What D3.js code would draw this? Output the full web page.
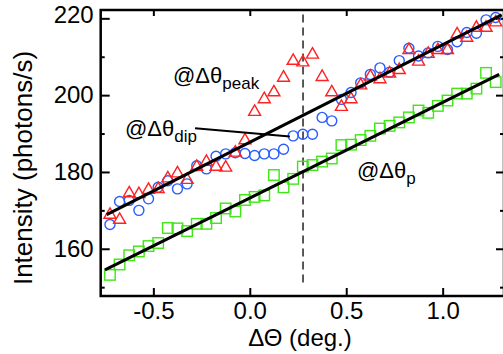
<!DOCTYPE html>
<html>
<head>
<meta charset="utf-8">
<script src="https://cdn.jsdelivr.net/npm/d3@7"></script>
<style>
  body { margin: 0; background: #fff; }
  svg { display: block; font-family: "Liberation Sans", Arial, sans-serif; }
</style>
</head>
<body>
<svg id="chart" width="503" height="354"></svg>
<script>
// detuning angles (deg.) shared by the three scans
const angles = [
  -0.725, -0.675, -0.625, -0.575, -0.525, -0.475, -0.425, -0.375, -0.325, -0.275,
  -0.225, -0.175, -0.125, -0.075, -0.025, 0.025, 0.075, 0.125, 0.175, 0.225,
  0.275, 0.325, 0.375, 0.425, 0.475, 0.525, 0.575, 0.625, 0.675, 0.725,
  0.775, 0.825, 0.875, 0.925, 0.975, 1.025, 1.075, 1.125, 1.175, 1.225, 1.275
];

// @Δθ_peak (red triangles)
const peakCounts = [
  169.1, 167.8, 174.7, 174.5, 175.6, 175.8, 178.6, 179.9, 178.2, 181.6,
  182.9, 181.6, 181.4, 185.3, 188.5, 195.9, 199.2, 201.0, 204.8, 209.2,
  208.8, 210.8, 205.0, 201.0, 197.2, 199.2, 202.8, 205.1, 204.4, 205.9,
  206.8, 212.0, 209.0, 211.0, 212.0, 212.0, 216.1, 215.2, 217.8, 217.8, 219.2
];

// @Δθ_dip (blue circles)
const dipCounts = [
  166.3, 172.3, 172.6, 170.0, 173.0, 176.0, 177.7, 175.6, 176.9, 181.6,
  180.8, 184.1, 184.7, 185.0, 184.8, 184.3, 184.7, 184.7, 185.9, 189.4,
  189.8, 189.8, 194.2, 193.3, 198.9, 200.7, 203.2, 205.4, 207.1, 206.0,
  209.0, 212.2, 210.2, 211.0, 212.7, 211.9, 213.9, 216.3, 216.1, 219.6, 220.2
];

// @Δθ_p (green squares)
const pCounts = [
  153.2, 155.9, 158.3, 159.3, 160.7, 161.5, 165.4, 165.3, 164.6, 166.5,
  166.5, 168.0, 170.5, 169.7, 172.7, 173.5, 173.9, 179.2, 176.0, 178.2,
  181.4, 181.8, 182.7, 183.5, 187.0, 187.1, 188.3, 189.4, 191.3, 192.0,
  192.9, 194.2, 196.0, 195.4, 197.2, 198.6, 200.4, 200.4, 201.7, 205.8, 203.4
];

// straight-line fits, [angle, intensity] end points
const fitUpper = [[-0.742, 168.9], [1.306, 220.9]];
const fitLower = [[-0.751, 154.5], [1.293, 205.4]];

const dipPointer = [[-0.284, 191.4], [0.208, 189.2]]; // leader line from the dip label
const markerAngle = 0.276; // dashed vertical line

const xTicks = [-0.5, 0.0, 0.5, 1.0];
const yTicks = [160, 180, 200, 220];
const yMinorTicks = [150, 170, 190, 210];

const svg = d3.select("#chart");

// plot frame in pixels
const box = { left: 100.7, right: 504, top: 10, bottom: 296 };

const x = d3.scaleLinear().domain([-0.773, 1.318]).range([box.left, box.right]);
const y = d3.scaleLinear().domain([147.7, 222.17]).range([box.bottom, box.top]);

const red = "#ff2222", blue = "#2a5cff", green = "#3ee614";

// axes, ticks pointing inward
const gx = svg.append("g")
  .attr("transform", `translate(0,${box.bottom})`)
  .call(d3.axisBottom(x).tickValues(xTicks).tickSize(-8).tickPadding(6).tickFormat(d => d.toFixed(1)));

const gxTop = svg.append("g")
  .attr("transform", `translate(0,${box.top})`)
  .call(d3.axisTop(x).tickValues(xTicks).tickSize(-6).tickFormat(""));

const gy = svg.append("g")
  .attr("transform", `translate(${box.left},0)`)
  .call(d3.axisLeft(y).tickValues(yTicks).tickSize(-9).tickPadding(7));

const gyMinor = svg.append("g")
  .attr("transform", `translate(${box.left},0)`)
  .call(d3.axisLeft(y).tickValues(yMinorTicks).tickSize(-4).tickFormat(""));

const gyRight = svg.append("g")
  .attr("transform", `translate(${box.right},0)`)
  .call(d3.axisRight(y).tickValues(yTicks).tickSize(-8).tickFormat(""));

const gyRightMinor = svg.append("g")
  .attr("transform", `translate(${box.right},0)`)
  .call(d3.axisRight(y).tickValues(yMinorTicks).tickSize(-4).tickFormat(""));

[gx, gxTop, gy, gyMinor, gyRight, gyRightMinor].forEach(g => {
  g.select(".domain").remove();
  g.selectAll("line").attr("stroke", "#000").attr("stroke-width", 2);
  g.selectAll("text").attr("font-family", null).attr("font-size", 24).attr("fill", "#000");
});

// the 220 label sits a little higher in the original
gy.selectAll(".tick text").filter(d => d === 220).attr("dy", "0.17em");

// frame
svg.append("rect")
  .attr("x", box.left).attr("y", box.top)
  .attr("width", box.right - box.left).attr("height", box.bottom - box.top)
  .attr("fill", "none").attr("stroke", "#000").attr("stroke-width", 2.5);

// dashed marker
svg.append("line")
  .attr("x1", x(markerAngle)).attr("x2", x(markerAngle))
  .attr("y1", y(221)).attr("y2", y(150))
  .attr("stroke", "#000").attr("stroke-width", 1.3)
  .attr("stroke-dasharray", "8,5");

const rows = angles.map((a, i) => ({ a, peak: peakCounts[i], dip: dipCounts[i], p: pCounts[i] }));

// green squares
const sq = 10.5;
svg.append("g").selectAll("rect")
  .data(rows)
  .join("rect")
  .attr("x", d => x(d.a) - sq / 2)
  .attr("y", d => y(d.p) - sq / 2)
  .attr("width", sq).attr("height", sq)
  .attr("fill", "none").attr("stroke", green).attr("stroke-width", 1.4);

// blue circles
svg.append("g").selectAll("circle")
  .data(rows)
  .join("circle")
  .attr("cx", d => x(d.a))
  .attr("cy", d => y(d.dip))
  .attr("r", 5)
  .attr("fill", "none").attr("stroke", blue).attr("stroke-width", 1.4);

// red triangles
svg.append("g").selectAll("path")
  .data(rows)
  .join("path")
  .attr("d", d => {
    const cx = x(d.a), cy = y(d.peak);
    return `M${cx},${cy - 6}L${cx + 6},${cy + 4.5}L${cx - 6},${cy + 4.5}Z`;
  })
  .attr("fill", "none").attr("stroke", red).attr("stroke-width", 1.4);

// fit lines
const line = d3.line().x(d => x(d[0])).y(d => y(d[1]));
[fitUpper, fitLower].forEach(f => {
  svg.append("path").attr("d", line(f))
    .attr("fill", "none").attr("stroke", "#000").attr("stroke-width", 3);
});

svg.append("path").attr("d", line(dipPointer))
  .attr("fill", "none").attr("stroke", "#000").attr("stroke-width", 2);

// labels on the plot
function label(px, py, sub) {
  const t = svg.append("text").attr("x", px).attr("y", py).attr("font-size", 22).attr("fill", "#000");
  t.append("tspan").text("@Δθ");
  t.append("tspan").attr("dy", 6).attr("font-size", 17).text(sub);
}
label(173, 83, "peak");
label(125, 136, "dip");
label(357, 178, "p");

// axis titles
svg.append("text")
  .attr("x", 300).attr("y", 346)
  .attr("text-anchor", "middle")
  .attr("font-size", 24)
  .text("ΔΘ (deg.)");

svg.append("text")
  .attr("transform", "translate(31.6,168) rotate(-90)")
  .attr("text-anchor", "middle")
  .attr("font-size", 26)
  .text("Intensity (photons/s)");
</script>
</body>
</html>
